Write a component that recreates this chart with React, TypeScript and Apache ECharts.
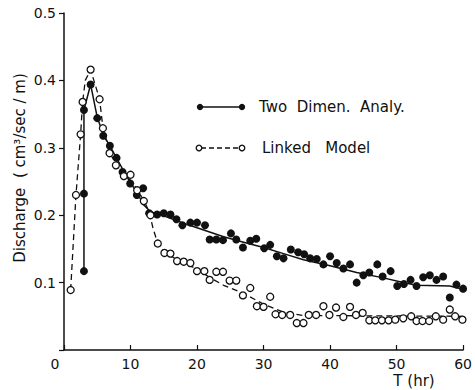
import React, { useEffect, useRef } from "react";
import * as echarts from "echarts";

// Two Dimensional Analysis: measured points (T hr, discharge)
const TWO_T = [3, 3, 3, 4, 5, 5.9, 6.9, 7.9, 8.8, 9.95, 10.95, 11.9, 12.8, 14, 15, 16, 16.9, 17.8, 19, 20, 21.2, 21.9, 22.9, 23.9, 25.1, 25.9, 26.9, 28, 28.9, 30.1, 31, 32, 33, 34.1, 35.2, 36.1, 37, 38, 39, 40, 41, 42, 43, 44, 45, 45.9, 47.1, 47.9, 49.1, 50.1, 51.1, 52.1, 53, 54, 55, 56, 57, 58, 59, 60];
const TWO_V = [0.117, 0.232, 0.356, 0.394, 0.344, 0.318, 0.303, 0.285, 0.264, 0.247, 0.23, 0.24, 0.203, 0.201, 0.203, 0.201, 0.194, 0.185, 0.189, 0.189, 0.185, 0.164, 0.164, 0.163, 0.173, 0.164, 0.152, 0.162, 0.165, 0.151, 0.156, 0.139, 0.136, 0.149, 0.145, 0.142, 0.136, 0.135, 0.127, 0.139, 0.129, 0.121, 0.127, 0.1, 0.111, 0.115, 0.127, 0.109, 0.117, 0.095, 0.098, 0.104, 0.095, 0.108, 0.111, 0.104, 0.109, 0.078, 0.097, 0.091];

// Two Dimensional Analysis: fitted curve
const TWO_CURVE_T = [3, 3, 3, 4, 5, 6, 7, 8, 9, 10, 11, 12, 13, 15, 18, 21, 24, 27, 30, 33, 36, 40, 44, 48, 51, 53, 58, 60];
const TWO_CURVE_V = [0.117, 0.232, 0.356, 0.394, 0.345, 0.318, 0.301, 0.283, 0.265, 0.248, 0.233, 0.215, 0.205, 0.199, 0.188, 0.178, 0.168, 0.16, 0.152, 0.143, 0.134, 0.125, 0.115, 0.107, 0.1, 0.096, 0.095, 0.09];

// Linked Model: points
const LINK_T = [1, 1.8, 2.5, 2.8, 4, 5.35, 5.85, 6.85, 7.8, 9, 10, 11, 12, 13, 14.1, 15.1, 16, 17, 18, 19, 20, 21.1, 21.9, 22.9, 23.9, 24.9, 25.9, 26.9, 28, 29, 30, 31, 31.8, 32.8, 34, 35, 36, 36.8, 37.9, 39, 39.9, 40.9, 42, 43, 43.9, 44.9, 45.9, 46.8, 47.8, 48.8, 49.8, 51, 52.2, 53, 53.9, 54.9, 55.9, 57, 58, 58.8, 59.9];
const LINK_V = [0.089, 0.23, 0.32, 0.368, 0.416, 0.372, 0.329, 0.292, 0.274, 0.258, 0.26, 0.237, 0.221, 0.2, 0.158, 0.144, 0.143, 0.132, 0.131, 0.129, 0.117, 0.117, 0.104, 0.116, 0.116, 0.103, 0.103, 0.081, 0.092, 0.065, 0.064, 0.079, 0.053, 0.052, 0.052, 0.04, 0.04, 0.052, 0.052, 0.065, 0.052, 0.063, 0.049, 0.064, 0.052, 0.055, 0.044, 0.044, 0.044, 0.044, 0.045, 0.047, 0.05, 0.043, 0.043, 0.043, 0.05, 0.045, 0.06, 0.05, 0.045];

// Linked Model: curve
const LINK_CURVE_T = [1, 1.8, 2.5, 2.8, 3.2, 4, 5.35, 5.85, 6.85, 8, 9, 10, 11, 12, 12.8, 13.4, 14.1, 15, 17, 20, 22, 24, 27, 30, 33, 36, 40, 60];
const LINK_CURVE_V = [0.089, 0.23, 0.32, 0.368, 0.4, 0.416, 0.372, 0.33, 0.293, 0.273, 0.26, 0.252, 0.238, 0.222, 0.205, 0.18, 0.158, 0.146, 0.134, 0.12, 0.107, 0.096, 0.084, 0.068, 0.056, 0.051, 0.051, 0.05];

const X_TICKS = [0, 10, 20, 30, 40, 50, 60];
const Y_TICKS = [0.1, 0.2, 0.3, 0.4, 0.5];

const zip = (a: number[], b: number[]) => a.map((v, i) => [v, b[i]]);

const INK = "#111";
const FONT = "DejaVu Sans";

export default function App() {
  const ref = useRef<HTMLDivElement>(null);
  useEffect(() => {
    if (!ref.current) return;
    const chart = echarts.init(ref.current, null, { renderer: "svg" });
    chart.setOption({
      animation: false,
      backgroundColor: "#fff",
      grid: { left: 64, right: 7, top: 13, bottom: 40, containLabel: false },
      xAxis: {
        type: "value",
        min: 0,
        max: 60,
        interval: 10,
        axisLine: { lineStyle: { color: INK, width: 1.5 } },
        axisTick: { inside: true, length: 5, lineStyle: { color: INK, width: 1.2 } },
        axisLabel: {
          color: INK,
          fontFamily: FONT,
          fontSize: 14,
          margin: 7,
          formatter: (v: number) => {
            if (!X_TICKS.includes(v)) return "";
            return v === 0 ? "{z|0}" : String(v);
          },
          rich: {
            z: { color: INK, fontFamily: FONT, fontSize: 14, padding: [0, 18, 0, 0] },
          },
        },
        splitLine: { show: false },
      },
      yAxis: {
        type: "value",
        min: 0,
        max: 0.5,
        interval: 0.1,
        axisLine: { show: true, lineStyle: { color: INK, width: 1.5 } },
        axisTick: { show: true, length: 5, lineStyle: { color: INK, width: 1.2 } },
        axisLabel: {
          color: INK,
          fontFamily: FONT,
          fontSize: 14,
          margin: 8,
          formatter: (v: number) => {
            const t = Y_TICKS.find((y) => Math.abs(y - v) < 1e-6);
            return t !== undefined ? t.toFixed(1) : "";
          },
        },
        splitLine: { show: false },
      },
      graphic: [
        {
          type: "text",
          x: 20,
          y: 168,
          rotation: Math.PI / 2,
          style: {
            text: "Discharge  ( cm³/sec / m)",
            font: `15px "${FONT}"`,
            fill: INK,
            align: "center",
            verticalAlign: "middle",
          },
        },
        {
          type: "text",
          x: 414,
          y: 381,
          style: {
            text: "T (hr)",
            font: `15px "${FONT}"`,
            fill: INK,
            align: "center",
            verticalAlign: "middle",
          },
        },
        // legend: Two Dimen. Analy.
        { type: "line", shape: { x1: 200, y1: 107, x2: 242, y2: 107 }, style: { stroke: INK, lineWidth: 1.6 } },
        { type: "circle", shape: { cx: 200, cy: 107, r: 3.2 }, style: { fill: INK } },
        { type: "circle", shape: { cx: 242, cy: 107, r: 3.2 }, style: { fill: INK } },
        {
          type: "text",
          x: 259,
          y: 107,
          style: { text: "Two  Dimen.  Analy.", font: `15px "${FONT}"`, fill: INK, verticalAlign: "middle" },
        },
        // legend: Linked Model
        { type: "line", shape: { x1: 201, y1: 148, x2: 240, y2: 148 }, style: { stroke: INK, lineWidth: 1.3, lineDash: [5, 3] } },
        { type: "circle", shape: { cx: 199, cy: 148, r: 2.8 }, style: { fill: "#fff", stroke: INK, lineWidth: 1.3 } },
        { type: "circle", shape: { cx: 242, cy: 148, r: 2.8 }, style: { fill: "#fff", stroke: INK, lineWidth: 1.3 } },
        {
          type: "text",
          x: 262,
          y: 148,
          style: { text: "Linked   Model", font: `15px "${FONT}"`, fill: INK, verticalAlign: "middle" },
        },
      ],
      series: [
        {
          type: "line",
          data: zip(TWO_CURVE_T, TWO_CURVE_V),
          showSymbol: false,
          symbol: "none",
          lineStyle: { color: INK, width: 1.5 },
          z: 2,
        },
        {
          type: "line",
          data: zip(LINK_CURVE_T, LINK_CURVE_V),
          showSymbol: false,
          symbol: "none",
          lineStyle: { color: INK, width: 1.3, type: [6, 4] },
          z: 2,
        },
        {
          type: "scatter",
          data: zip(TWO_T, TWO_V),
          symbol: "circle",
          symbolSize: 8,
          itemStyle: { color: INK, opacity: 1 },
          z: 3,
        },
        {
          type: "scatter",
          data: zip(LINK_T, LINK_V),
          symbol: "circle",
          symbolSize: 7,
          itemStyle: { color: "#fff", borderColor: INK, borderWidth: 1.3, opacity: 1 },
          z: 4,
        },
      ],
    });
    return () => chart.dispose();
  }, []);
  return <div ref={ref} style={{ width: 475, height: 390, position: "absolute", left: 0, top: 0 }} />;
}
